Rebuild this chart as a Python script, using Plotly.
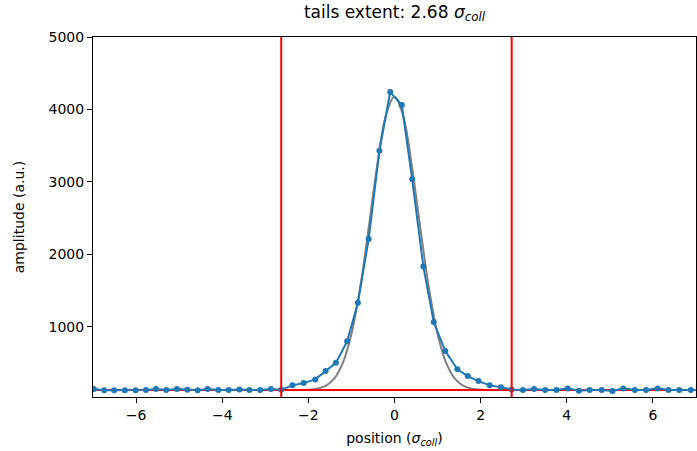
import plotly.graph_objects as go

# ---- data ----
position = [-6.98, -6.74, -6.51, -6.26, -6.01, -5.77, -5.54, -5.30, -5.05, -4.81,
            -4.57, -4.34, -4.09, -3.85, -3.60, -3.37, -3.12, -2.87, -2.63, -2.37,
            -2.11, -1.84, -1.60, -1.36, -1.10, -0.85, -0.60, -0.35, -0.10, 0.17,
            0.41, 0.67, 0.91, 1.18, 1.46, 1.70, 1.95, 2.21, 2.47, 2.72,
            2.98, 3.24, 3.50, 3.76, 4.02, 4.28, 4.53, 4.81, 5.06, 5.31,
            5.58, 5.84, 6.11, 6.36, 6.61, 6.88, 7.14]
amplitude = [140, 122, 122, 122, 122, 126, 140, 126, 140, 130,
             122, 140, 126, 126, 135, 126, 126, 140, 130, 191,
             222, 273, 388, 503, 798, 1331, 2211, 3430, 4240, 4061,
             3035, 1830, 1065, 664, 412, 319, 250, 191, 163, 135,
             126, 140, 126, 126, 149, 116, 126, 126, 112, 149,
             126, 126, 149, 126, 126, 126, 126]

fit_x = [-7.0, -2.4, -2.0, -1.8, -1.6, -1.4, -1.2, -1.0, -0.8, -0.6, -0.4, -0.2, 0.0,
         0.2, 0.4, 0.6, 0.8, 1.0, 1.2, 1.4, 1.6, 1.8, 2.0, 2.4, 7.0]
fit_y = [125, 125, 130, 144, 184, 284, 500, 900, 1531, 2360, 3235, 3916, 4175,
         3916, 3235, 2360, 1531, 900, 500, 284, 184, 144, 130, 125, 125]

baseline = 125
tail_left = -2.63
tail_right = 2.72
tails_extent = 2.68

x_range = [-7, 7]
y_range = [30, 5000]
x_ticks = [-6, -4, -2, 0, 2, 4, 6]
y_ticks = [1000, 2000, 3000, 4000, 5000]

BLUE = "#1f77b4"
RED = "#ff0000"
GRAY = "#808080"
FONT = "DejaVu Sans"

fig = go.Figure()

# gaussian fit (grey)
fig.add_trace(go.Scatter(x=fit_x, y=fit_y, mode="lines",
                         line=dict(color=GRAY, width=2, shape="spline", smoothing=1.0),
                         hoverinfo="skip"))
# baseline level (red, under data)
fig.add_trace(go.Scatter(x=[x_range[0] - 1, x_range[1] + 1], y=[baseline, baseline],
                         mode="lines", line=dict(color=RED, width=2), hoverinfo="skip"))
# measured profile
fig.add_trace(go.Scatter(x=position, y=amplitude, mode="lines+markers",
                         line=dict(color=BLUE, width=2),
                         marker=dict(color=BLUE, size=6)))
# tail boundaries (red, above data)
for xv in (tail_left, tail_right):
    fig.add_trace(go.Scatter(x=[xv, xv], y=[y_range[0] - 500, y_range[1] + 500],
                             mode="lines", line=dict(color=RED, width=2), hoverinfo="skip"))

axis_common = dict(showgrid=False, zeroline=False, showline=True, linecolor="black",
                   linewidth=1, mirror=True, ticks="outside", ticklen=5, tickwidth=1,
                   tickcolor="black", tickfont=dict(family=FONT, size=14, color="black"))

fig.update_layout(
    width=697, height=451,
    margin=dict(l=93, r=1, t=37, b=54),
    paper_bgcolor="white", plot_bgcolor="white",
    showlegend=False,
    font=dict(family=FONT, size=14, color="black"),
    title=dict(text="tails extent: " + f"{tails_extent:.2f}" + " <i>σ</i><sub><i>coll</i></sub>",
               x=0.5, xref="paper", xanchor="center", y=1, yref="container", yanchor="top",
               pad=dict(t=6), font=dict(family=FONT, size=17, color="black")),
    xaxis=dict(range=x_range, tickvals=x_ticks,
               title=dict(text="position (<i>σ</i><sub><i>coll</i></sub>)", standoff=11,
                          font=dict(family=FONT, size=14)), **axis_common),
    yaxis=dict(range=y_range, tickvals=y_ticks,
               title=dict(text="amplitude (a.u.)", standoff=20,
                          font=dict(family=FONT, size=14)), **axis_common),
)

fig.write_html("out.html", config={"displayModeBar": False})
